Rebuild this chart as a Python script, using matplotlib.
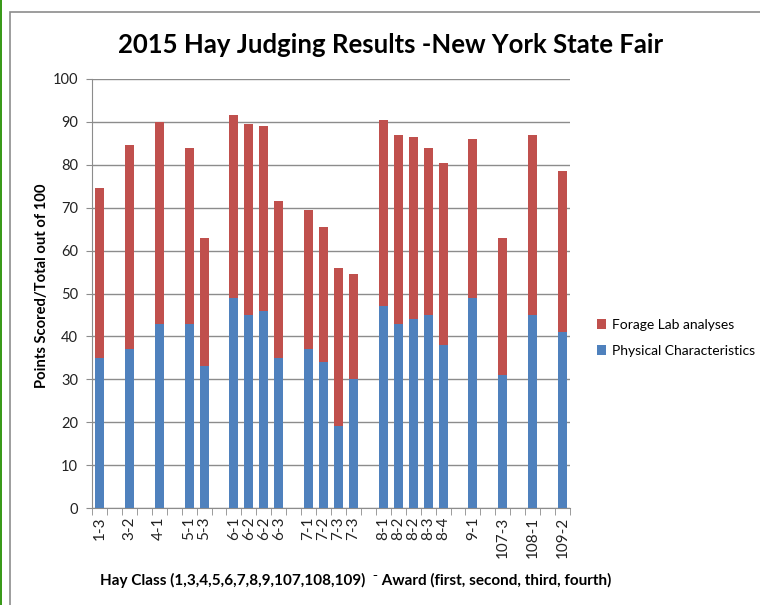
import numpy as np
import matplotlib
matplotlib.use("Agg")
import matplotlib.pyplot as plt
from matplotlib.patches import Rectangle

plt.rcParams['font.family'] = ['Lato', 'DejaVu Sans']

# Excel sheet rows, blank rows leave gaps between the hay classes
categories = ['1-3', '', '3-2', '', '4-1', '', '5-1', '5-3', '',
              '6-1', '6-2', '6-2', '6-3', '',
              '7-1', '7-2', '7-3', '7-3', '',
              '8-1', '8-2', '8-2', '8-3', '8-4', '',
              '9-1', '', '107-3', '', '108-1', '', '109-2']
physical = [35, 0, 37, 0, 43, 0, 43, 33, 0,
            49, 45, 46, 35, 0,
            37, 34, 19, 30, 0,
            47, 43, 44, 45, 38, 0,
            49, 0, 31, 0, 45, 0, 41]
forage = [39.5, 0, 47.5, 0, 47, 0, 41, 30, 0,
          42.5, 44.5, 43, 36.5, 0,
          32.5, 31.5, 37, 24.5, 0,
          43.5, 44, 42.5, 39, 42.5, 0,
          37, 0, 32, 0, 42, 0, 37.5]
yticks = [0, 10, 20, 30, 40, 50, 60, 70, 80, 90, 100]

blue = '#4F81BD'
red = '#C0504D'
grey = '#8C8C8C'

fig = plt.figure(figsize=(7.6, 6.05), dpi=100)
ax = fig.add_axes([92 / 760, 1 - 508 / 605, 478 / 760, 429 / 605])

x = np.arange(len(categories))
b1 = ax.bar(x, physical, width=0.6, color=blue, label='Physical Characteristics', zorder=3)
b2 = ax.bar(x, forage, width=0.6, bottom=physical, color=red, label='Forage Lab analyses', zorder=3)

ax.set_xlim(-0.5, len(categories) - 0.5)
ax.set_ylim(0, 100)
ax.set_yticks(yticks)
ax.tick_params(axis='y', labelsize=10.5, length=4, color=grey, pad=6, labelcolor='#222222')
ax.yaxis.grid(True, color=grey, linewidth=1, zorder=0)

# labels at bar centres, tick marks between slots
ax.set_xticks(x)
ax.set_xticklabels(categories, rotation=90, fontsize=11, color='#222222')
ax.tick_params(axis='x', length=0, pad=6)
ax.set_xticks(np.arange(-0.5, len(categories)), minor=True)
ax.tick_params(axis='x', which='minor', length=5, color=grey)

for s in ['top', 'right']:
    ax.spines[s].set_visible(False)
for s in ['left', 'bottom']:
    ax.spines[s].set_color(grey)

fig.text(42 / 760, 1 - 286 / 605, 'Points Scored/Total out of 100', rotation=90,
         ha='center', va='center', fontsize=10.6, fontweight='bold')
fig.text(100 / 760, 1 - 580 / 605,
         'Hay Class (1,3,4,5,6,7,8,9,107,108,109)  \u207b Award (first, second, third, fourth)',
         ha='left', va='center', fontsize=11, fontweight='bold')
fig.text(391 / 760, 1 - 45 / 605, '2015 Hay Judging Results -New York State Fair',
         ha='center', va='center', fontsize=18.5, fontweight='bold')

fig.legend(handles=[b2, b1], loc='center left', bbox_to_anchor=(584 / 760, 1 - 338 / 605),
           frameon=False, fontsize=10, handlelength=0.7, handleheight=0.7,
           handletextpad=0.4, labelspacing=1.0)

# outer chart border and the green page edge
fig.patches.append(Rectangle((10 / 760, -0.1), 1.0, 1 - 12 / 605 + 0.1, transform=fig.transFigure,
                             fill=False, edgecolor=grey, linewidth=1.2))
fig.patches.append(Rectangle((0, 0), 2 / 760, 1, transform=fig.transFigure,
                             facecolor='#3A9A1A', edgecolor='none'))

fig.savefig('out.png', dpi=100)
